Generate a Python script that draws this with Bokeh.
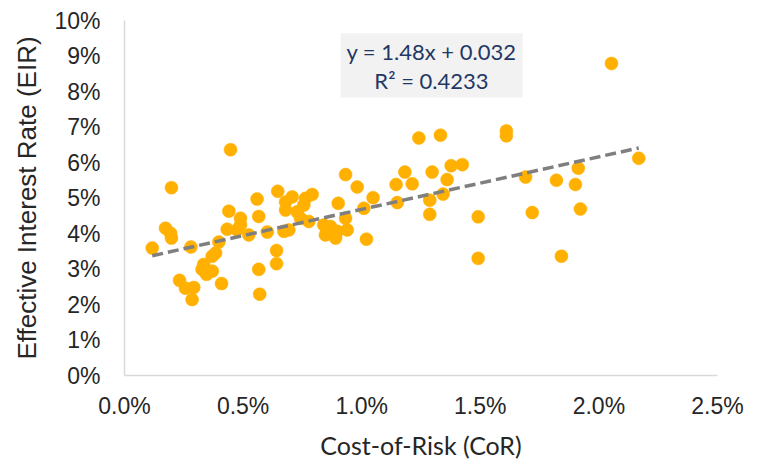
import numpy as np
from bokeh.plotting import figure
from bokeh.models import FixedTicker, NumeralTickFormatter, BoxAnnotation, Label, ColumnDataSource
from bokeh.embed import file_html
from bokeh.resources import INLINE

# Cost-of-Risk (%) and Effective Interest Rate (%)
cor_pct = [0.117, 0.173, 0.194, 0.198, 0.198, 0.232, 0.257, 0.280, 0.292, 0.285,
           0.334, 0.327, 0.346, 0.370, 0.370, 0.384, 0.398, 0.409, 0.433, 0.440,
           0.447, 0.489, 0.489, 0.475, 0.524, 0.559, 0.566, 0.566, 0.570, 0.602,
           0.641, 0.641, 0.646, 0.679, 0.707, 0.679, 0.672, 0.693, 0.728, 0.756,
           0.763, 0.791, 0.742, 0.777, 0.840, 0.847, 0.868, 0.890, 0.897, 0.932,
           0.939, 0.901, 0.932, 0.981, 1.009, 1.020, 1.048, 1.145, 1.150, 1.182,
           1.213, 1.241, 1.332, 1.297, 1.287, 1.287, 1.343, 1.360, 1.377, 1.424,
           1.491, 1.491, 1.610, 1.610, 1.691, 1.719, 1.821, 1.842, 1.901, 1.913,
           1.922, 2.053, 2.168]
eir_pct = [3.59, 4.15, 4.01, 3.87, 5.29, 2.68, 2.46, 3.62, 2.48, 2.14,
           3.13, 2.99, 2.85, 2.94, 3.36, 3.45, 3.76, 2.59, 4.12, 4.63,
           6.36, 4.43, 4.24, 4.10, 3.96, 4.97, 4.48, 2.99, 2.29, 4.04,
           3.52, 3.15, 5.19, 4.89, 5.03, 4.66, 4.06, 4.10, 4.61, 4.80,
           4.99, 5.10, 4.43, 4.34, 4.24, 3.96, 4.20, 3.87, 4.06, 4.43,
           4.10, 4.85, 5.66, 5.31, 4.71, 3.84, 5.01, 5.38, 4.87, 5.73,
           5.40, 6.69, 6.77, 5.73, 4.94, 4.54, 5.11, 5.52, 5.91, 5.94,
           4.47, 3.30, 6.89, 6.75, 5.59, 4.59, 5.50, 3.36, 5.38, 5.84,
           4.69, 8.79, 6.12]

slope = 1.48
intercept = 0.032
r_squared = 0.4233

x_ticks = [0.0, 0.005, 0.010, 0.015, 0.020, 0.025]
y_ticks = [0.0, 0.01, 0.02, 0.03, 0.04, 0.05, 0.06, 0.07, 0.08, 0.09, 0.10]

x = np.array(cor_pct) / 100.0
y = np.array(eir_pct) / 100.0
src = ColumnDataSource(dict(x=x, y=y))

p = figure(width=755, height=462, x_range=(0, 0.025), y_range=(0, 0.10),
           output_backend="svg", toolbar_location=None,
           min_border_left=124, min_border_right=38,
           min_border_top=20, min_border_bottom=83)
p.background_fill_color = "white"
p.border_fill_color = "white"
p.outline_line_color = None
p.grid.visible = False

p.scatter("x", "y", source=src, size=13, fill_color="#FFB000",
          line_color="#FFB000", line_width=0.5)

tx = np.array([x.min(), x.max()])
ty = slope * tx + intercept
p.line(tx, ty, line_color="#7F7F7F", line_width=3.5, line_dash="11 5")

box = BoxAnnotation(left=0.00911, right=0.01678, bottom=0.0783, top=0.0964,
                    fill_color="#F2F2F2", fill_alpha=1.0, line_color=None)
p.add_layout(box)
p.add_layout(Label(x=0.01294, y=0.0914, text=f"y = {slope}x + {intercept}",
                   text_align="center", text_baseline="middle",
                   text_font="Lato", text_font_size="22px", text_color="#1F3864"))
p.add_layout(Label(x=0.01294, y=0.0831, text=f"R\u00b2 = {r_squared}",
                   text_align="center", text_baseline="middle",
                   text_font="Lato", text_font_size="22px", text_color="#1F3864"))

p.xaxis.ticker = FixedTicker(ticks=x_ticks)
p.yaxis.ticker = FixedTicker(ticks=y_ticks)
p.xaxis.formatter = NumeralTickFormatter(format="0.0%")
p.yaxis.formatter = NumeralTickFormatter(format="0%")

for ax in (p.xaxis[0], p.yaxis[0]):
    ax.axis_line_color = "#D9D9D9"
    ax.axis_line_width = 1.5
    ax.major_tick_line_color = None
    ax.minor_tick_line_color = None
    ax.major_tick_out = 0
    ax.major_tick_in = 0
    ax.major_label_text_font = "Liberation Sans"
    ax.major_label_text_font_size = "23px"
    ax.major_label_text_color = "#262626"
    ax.axis_label_text_font_style = "normal"
    ax.axis_label_text_color = "#262626"

p.yaxis.major_label_standoff = 24
p.xaxis.major_label_standoff = 17
p.yaxis.axis_label = "Effective Interest Rate (EIR)"
p.yaxis.axis_label_text_font = "Liberation Sans"
p.yaxis.axis_label_text_font_size = "26px"
p.yaxis.axis_label_standoff = 9
p.xaxis.axis_label = "Cost-of-Risk (CoR)"
p.xaxis.axis_label_text_font = "Lato"
p.xaxis.axis_label_text_font_size = "25px"
p.xaxis.axis_label_standoff = 8

open("out.html", "w").write(file_html(p, INLINE))
